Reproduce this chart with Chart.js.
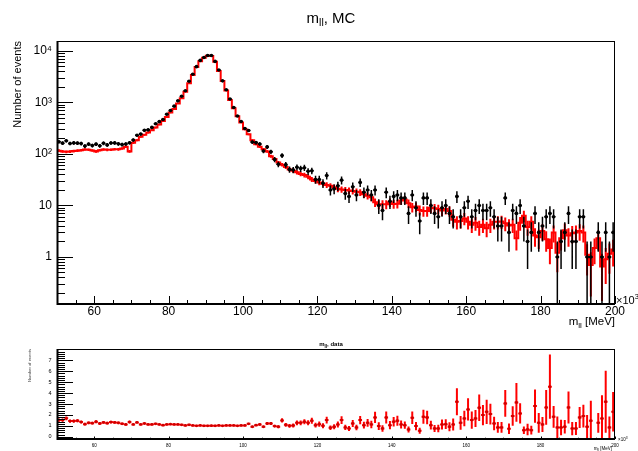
<!DOCTYPE html>
<html>
<head>
<meta charset="utf-8">
<script src="https://cdn.jsdelivr.net/npm/chart.js@4.4.1/dist/chart.umd.min.js"></script>
<style>
  html, body { margin: 0; padding: 0; background: #fff; }
  #wrap { position: relative; width: 638px; height: 451px; overflow: hidden; }
  canvas { display: block; position: absolute; left: 0; }
  #mainChart { top: 0; }
  #ratioChart { top: 330px; }
</style>
</head>
<body>
<div id="wrap">
  <canvas id="mainChart" width="638" height="330"></canvas>
  <canvas id="ratioChart" width="638" height="121"></canvas>
</div>
<script>
// m_ll histogram, 150 bins of 1 (x10^3 MeV) from 50 to 200
const massMin = 50;
const massMax = 200;
const binWidth = 1;

const mcEvents = [
  116, 112, 110, 111, 114, 116, 118, 122, 121, 117,
  112, 118, 122, 120, 121, 124, 123, 128, 138, 112,
  165, 185, 215, 235, 260, 290, 325, 375, 435, 520,
  635, 750, 950, 1200, 1620, 2350, 3400, 4900, 6300, 7400,
  8100, 8000, 6200, 4100, 2600, 1700, 1120, 770, 540, 410,
  300, 240, 185, 155, 138, 124, 112, 90, 80, 68,
  62, 56, 50, 47, 44, 41, 39, 36, 32, 30,
  28, 26.5, 25, 24, 22.5, 21, 20.5, 20, 19.5, 19,
  18.5, 18, 16.5, 15.5, 14.5, 11.5, 10.5, 10.5, 10.5, 11.5,
  10.7, 10.8, 12.5, 13, 11, 9.2, 9.5, 8.2, 7.8, 7.8,
  9, 8.8, 8.5, 8, 8.5, 7.8, 5.3, 4.8, 5, 5.6,
  4.8, 4.2, 4.6, 3.8, 4.2, 3.6, 4.2, 4.8, 4.8, 4.9,
  4.5, 4.1, 4.2, 2.3, 4.6, 6.3, 3.8, 4.8, 2.6, 2.4,
  3.2, 2.2, 1.5, 3, 1.2, 2.3, 3.3, 2.6, 2.9, 3,
  3.2, 3, 1.1, 0.7, 1.5, 2.3, 0.65, 0.9, 1.15, 1.4
];

const dataEvents = [
  172, 162, 180, 160, 164, 162, 159, 142, 155, 146,
  155, 144, 161, 150, 163, 164, 157, 152, 156, 165,
  186, 230, 243, 287, 294, 328, 387, 424, 465, 588,
  699, 848, 1074, 1320, 1685, 2585, 3536, 4950, 6550, 7475,
  8180, 8160, 6260, 4265, 2625, 1770, 1165, 800, 545, 426,
  312, 286, 170, 166, 156, 114, 137, 110, 78, 63,
  93, 62, 50, 49, 55, 52, 54, 46, 47, 32,
  32, 27, 38, 20, 21, 24, 31, 17, 15, 23,
  16, 28, 18, 20, 16, 20, 10, 8, 18, 12,
  15, 16, 14, 14, 7, 16, 9, 5, 14, 14,
  10, 7, 6, 9, 10, 7, 6, 15, 6, 9,
  12, 6, 8, 10, 8, 8, 9, 6, 4, 4,
  14, 3, 8, 7, 10, 4, 2, 3, 7, 3,
  4, 6, 7, 6, 1, 2, 3, 7, 2, 2,
  6, 6, 1, 1, 0, 3, 1, 3, 1, 3
];

// data / MC, read from the lower pad
const ratioValues = [
  1.53, 1.53, 1.69, 1.44, 1.44, 1.47, 1.35, 1.16, 1.28, 1.25,
  1.38, 1.22, 1.32, 1.25, 1.35, 1.32, 1.28, 1.19, 1.13, 1.35,
  1.13, 1.32, 1.13, 1.22, 1.13, 1.13, 1.19, 1.13, 1.07, 1.13,
  1.16, 1.13, 1.13, 1.10, 1.04, 1.10, 1.04, 1.01, 1.04, 1.01,
  1.01, 1.02, 1.01, 1.04, 1.01, 1.04, 1.04, 1.04, 1.01, 1.04,
  1.04, 1.19, 0.92, 1.07, 1.13, 0.92, 1.22, 1.22, 0.98, 0.92,
  1.50, 1.10, 1.01, 1.04, 1.28, 1.28, 1.38, 1.28, 1.47, 1.07,
  1.16, 1.01, 1.53, 0.83, 0.92, 1.13, 1.53, 0.86, 0.76, 1.22,
  0.86, 1.53, 1.07, 1.28, 1.13, 1.77, 0.98, 0.76, 1.77, 1.07,
  1.38, 1.47, 1.13, 1.07, 0.67, 1.74, 0.98, 0.55, 1.83, 1.77,
  1.07, 0.76, 0.76, 1.13, 1.16, 0.92, 1.13, 3.21, 1.28, 1.68,
  2.51, 1.53, 1.68, 2.66, 1.99, 2.29, 2.08, 1.22, 0.86, 0.86,
  3.06, 0.73, 1.90, 3.15, 2.14, 0.61, 0.67, 0.61, 2.81, 1.28,
  1.13, 2.69, 4.59, 1.83, 0.86, 0.86, 0.92, 2.69, 0.76, 0.76,
  1.77, 1.90, 0.92, 1.47, null, 1.28, 1.68, 3.21, 0.86, 2.29
];

// MC event weight (sumw2 errors)
const mcWeight = 0.4;

const xTickValues = [60, 80, 100, 120, 140, 160, 180, 200];
const yTickValues = [1, 10, 100, 1000, 10000];
const yTickLabels = ['1', '10', '10\u00b2', '10\u00b3', '10\u2074'];
const ratioTickValues = [0, 1, 2, 3, 4, 5, 6, 7];

const FONT = "'Liberation Sans', Arial, Helvetica, sans-serif";
Chart.defaults.font.family = FONT;
Chart.defaults.color = '#000';

const binCenters = mcEvents.map((v, i) => massMin + (i + 0.5) * binWidth);

// histogram outline: one point per lower bin edge + closing point
let mcSteps = mcEvents.map((v, i) => ({ x: massMin + i * binWidth, y: v }));
mcSteps.push({ x: massMax, y: mcEvents[mcEvents.length - 1] });

let dataPoints = dataEvents.map((v, i) => ({ x: binCenters[i], y: v > 0 ? v : null }));
let ratioPoints = ratioValues.map((v, i) => ({ x: binCenters[i], y: v }));

function ratioError(i) {
  const d = dataEvents[i], m = mcEvents[i], r = ratioValues[i];
  if (!d || r == null) return 0;
  return r * Math.sqrt(1 / d + mcWeight / m);
}

// text with sub/superscripts: parts = [text, size, dy, weight]
function drawRich(ctx, parts, x, y, align) {
  let w = 0;
  const widths = parts.map(p => {
    ctx.font = (p[3] || '') + ' ' + p[1] + 'px ' + FONT;
    const pw = ctx.measureText(p[0]).width;
    w += pw;
    return pw;
  });
  let cx = align === 'right' ? x - w : (align === 'center' ? x - w / 2 : x);
  ctx.textAlign = 'left';
  ctx.textBaseline = 'alphabetic';
  parts.forEach((p, k) => {
    ctx.font = (p[3] || '') + ' ' + p[1] + 'px ' + FONT;
    ctx.fillText(p[0], cx, y + (p[2] || 0));
    cx += widths[k];
  });
}

function range(a, b, step) {
  let out = [];
  for (let v = a; v <= b + 1e-9; v += step) out.push(Math.round(v * 1000) / 1000);
  return out;
}

// ROOT like frame, ticks drawn inside the frame
function drawFrame(chart, t) {
  const { ctx, chartArea: a, scales } = chart;
  const x = scales.x, y = scales.y;
  ctx.save();
  ctx.strokeStyle = '#000';
  ctx.lineWidth = 1;
  ctx.beginPath();
  t.xMinor.forEach(v => {
    const px = Math.round(x.getPixelForValue(v)) + 0.5;
    const len = t.xMajor.includes(v) ? t.xMajorLen : t.xMinorLen;
    ctx.moveTo(px, a.bottom);
    ctx.lineTo(px, a.bottom - len);
  });
  t.yMinor.forEach(v => {
    const py = Math.round(y.getPixelForValue(v)) + 0.5;
    if (py < a.top || py > a.bottom) return;
    const len = t.yMajor.includes(v) ? t.yMajorLen : t.yMinorLen;
    ctx.moveTo(a.left, py);
    ctx.lineTo(a.left + len, py);
  });
  ctx.stroke();
  ctx.strokeRect(a.left + 0.5, a.top + 0.5, a.right - a.left - 1, a.bottom - a.top - 1);
  ctx.lineWidth = 2;
  ctx.beginPath();
  ctx.moveTo(a.left + 0.5, a.top);
  ctx.lineTo(a.left + 0.5, a.bottom);
  ctx.lineTo(a.right, a.bottom);
  ctx.stroke();
  ctx.restore();
}

function vBar(ctx, px, p1, p2) {
  ctx.moveTo(px, p1);
  ctx.lineTo(px, p2);
}

const mainPlugin = {
  id: 'mainDecor',
  afterDatasetDraw(chart, args) {
    if (args.index !== 1) return;
    const { ctx, chartArea: a, scales: { x, y } } = chart;
    ctx.save();
    ctx.beginPath();
    ctx.rect(a.left, a.top, a.right - a.left, a.bottom - a.top);
    ctx.clip();
    // MC errors
    ctx.strokeStyle = '#ff0000';
    ctx.lineWidth = 2;
    ctx.beginPath();
    mcEvents.forEach((m, i) => {
      const e = Math.sqrt(mcWeight * m);
      const lo = m - e > y.min ? y.getPixelForValue(m - e) : a.bottom + 2;
      vBar(ctx, x.getPixelForValue(binCenters[i]), lo, y.getPixelForValue(m + e));
    });
    ctx.stroke();
    // data errors
    ctx.strokeStyle = '#000';
    ctx.lineWidth = 1.5;
    ctx.beginPath();
    dataEvents.forEach((d, i) => {
      if (!d) return;
      const e = Math.sqrt(d);
      const px = x.getPixelForValue(binCenters[i]);
      const py = y.getPixelForValue(d);
      const lo = d - e > y.min ? y.getPixelForValue(d - e) : a.bottom + 2;
      vBar(ctx, px, lo, y.getPixelForValue(d + e));
      ctx.moveTo(x.getPixelForValue(binCenters[i] - binWidth / 2), py);
      ctx.lineTo(x.getPixelForValue(binCenters[i] + binWidth / 2), py);
    });
    ctx.stroke();
    ctx.restore();
  },
  afterDraw(chart) {
    let yMinor = [];
    [0.1, 1, 10, 100, 1000, 10000].forEach(dec => {
      for (let k = 1; k <= 9; k++) yMinor.push(Math.round(dec * k * 1000) / 1000);
    });
    drawFrame(chart, {
      xMajor: xTickValues, xMinor: range(50, 200, 5), xMajorLen: 8, xMinorLen: 4,
      yMajor: yTickValues, yMinor: yMinor, yMajorLen: 16, yMinorLen: 8
    });
    const ctx = chart.ctx;
    ctx.save();
    ctx.fillStyle = '#000';
    drawRich(ctx, [['m', 15], ['ll', 10.5, 3], [', MC', 15]], 331, 23, 'center');
    drawRich(ctx, [['m', 11.5], ['ll', 8, 2.5], [' [MeV]', 11.5]], 615, 325, 'right');
    drawRich(ctx, [['\u00d710', 11], ['3', 7.5, -5]], 616, 304, 'left');
    ctx.translate(21, 41);
    ctx.rotate(-Math.PI / 2);
    drawRich(ctx, [['Number of events', 11]], 0, 0, 'right');
    ctx.restore();
  }
};

new Chart(document.getElementById('mainChart'), {
  type: 'scatter',
  data: {
    datasets: [
      {
        label: 'data', data: dataPoints, order: 0,
        pointRadius: 1.8, pointBackgroundColor: '#000', pointBorderWidth: 0
      },
      {
        type: 'line', label: 'MC', data: mcSteps, order: 1,
        stepped: true, borderColor: '#ff0000', borderWidth: 2,
        pointRadius: 0, fill: false
      }
    ]
  },
  options: {
    responsive: false,
    animation: false,
    events: [],
    layout: { padding: { left: 0, right: 23, top: 41, bottom: 0 } },
    plugins: { legend: { display: false }, tooltip: { enabled: false } },
    scales: {
      x: {
        type: 'linear', min: massMin, max: massMax,
        afterFit(s) { s.height = 26; },
        afterBuildTicks(s) { s.ticks = xTickValues.map(v => ({ value: v })); },
        grid: { display: false, drawTicks: false },
        border: { display: false },
        ticks: { autoSkip: false, maxRotation: 0, padding: 0, font: { size: 12 }, color: '#000',
          callback: v => String(v) }
      },
      y: {
        type: 'logarithmic', min: 0.122, max: 15600,
        afterFit(s) { s.width = 57; },
        afterBuildTicks(s) { s.ticks = yTickValues.map(v => ({ value: v })); },
        grid: { display: false, drawTicks: false },
        border: { display: false },
        ticks: { autoSkip: false, padding: 5, font: { size: 12 }, color: '#000',
          callback: v => { const k = yTickValues.indexOf(v); return k >= 0 ? yTickLabels[k] : ''; } }
      }
    }
  },
  plugins: [mainPlugin]
});

const ratioPlugin = {
  id: 'ratioDecor',
  beforeDatasetsDraw(chart) {
    const { ctx, chartArea: a, scales: { x, y } } = chart;
    ctx.save();
    ctx.beginPath();
    ctx.rect(a.left, a.top, a.right - a.left, a.bottom - a.top);
    ctx.clip();
    ctx.strokeStyle = '#ff0000';
    ctx.lineWidth = 2;
    ctx.beginPath();
    ratioValues.forEach((r, i) => {
      if (r == null) return;
      const e = ratioError(i);
      const px = x.getPixelForValue(binCenters[i]);
      const py = y.getPixelForValue(r);
      vBar(ctx, px, y.getPixelForValue(r - e), y.getPixelForValue(r + e));
      ctx.moveTo(x.getPixelForValue(binCenters[i] - binWidth / 2), py);
      ctx.lineTo(x.getPixelForValue(binCenters[i] + binWidth / 2), py);
    });
    ctx.stroke();
    ctx.restore();
  },
  afterDraw(chart) {
    drawFrame(chart, {
      xMajor: xTickValues, xMinor: range(50, 200, 5), xMajorLen: 2.5, xMinorLen: 1.3,
      yMajor: ratioTickValues, yMinor: range(-0.2, 8, 0.2), yMajorLen: 16, yMinorLen: 8
    });
    const ctx = chart.ctx;
    ctx.save();
    ctx.fillStyle = '#000';
    drawRich(ctx, [['m', 6, 0, 'bold'], ['ll', 4.5, 1.5, 'bold'], [', data', 6, 0, 'bold']], 331, 16, 'center');
    drawRich(ctx, [['m', 4.5], ['ll', 3.3, 1], [' [MeV]', 4.5]], 612, 120, 'right');
    drawRich(ctx, [['\u00d710', 4.5], ['3', 3.3, -2.5]], 618, 111, 'left');
    ctx.fillStyle = '#444';
    ctx.translate(31, 19);
    ctx.rotate(-Math.PI / 2);
    drawRich(ctx, [['Number of events', 4.2]], 0, 0, 'right');
    ctx.restore();
  }
};

new Chart(document.getElementById('ratioChart'), {
  type: 'scatter',
  data: {
    datasets: [
      {
        label: 'ratio', data: ratioPoints,
        pointRadius: 1.4, pointBackgroundColor: '#cc0000', pointBorderWidth: 0
      }
    ]
  },
  options: {
    responsive: false,
    animation: false,
    events: [],
    layout: { padding: { left: 0, right: 23, top: 19, bottom: 0 } },
    plugins: { legend: { display: false }, tooltip: { enabled: false } },
    scales: {
      x: {
        type: 'linear', min: massMin, max: massMax,
        afterFit(s) { s.height = 12; },
        afterBuildTicks(s) { s.ticks = xTickValues.map(v => ({ value: v })); },
        grid: { display: false, drawTicks: false },
        border: { display: false },
        ticks: { autoSkip: false, maxRotation: 0, padding: 4, font: { size: 4.5 }, color: '#000',
          callback: v => String(v) }
      },
      y: {
        type: 'linear', min: -0.2, max: 8.04,
        afterFit(s) { s.width = 57; },
        afterBuildTicks(s) { s.ticks = ratioTickValues.map(v => ({ value: v })); },
        grid: { display: false, drawTicks: false },
        border: { display: false },
        ticks: { autoSkip: false, padding: 5.5, font: { size: 5.5 }, color: '#000',
          callback: v => String(v) }
      }
    }
  },
  plugins: [ratioPlugin]
});
</script>
</body>
</html>
